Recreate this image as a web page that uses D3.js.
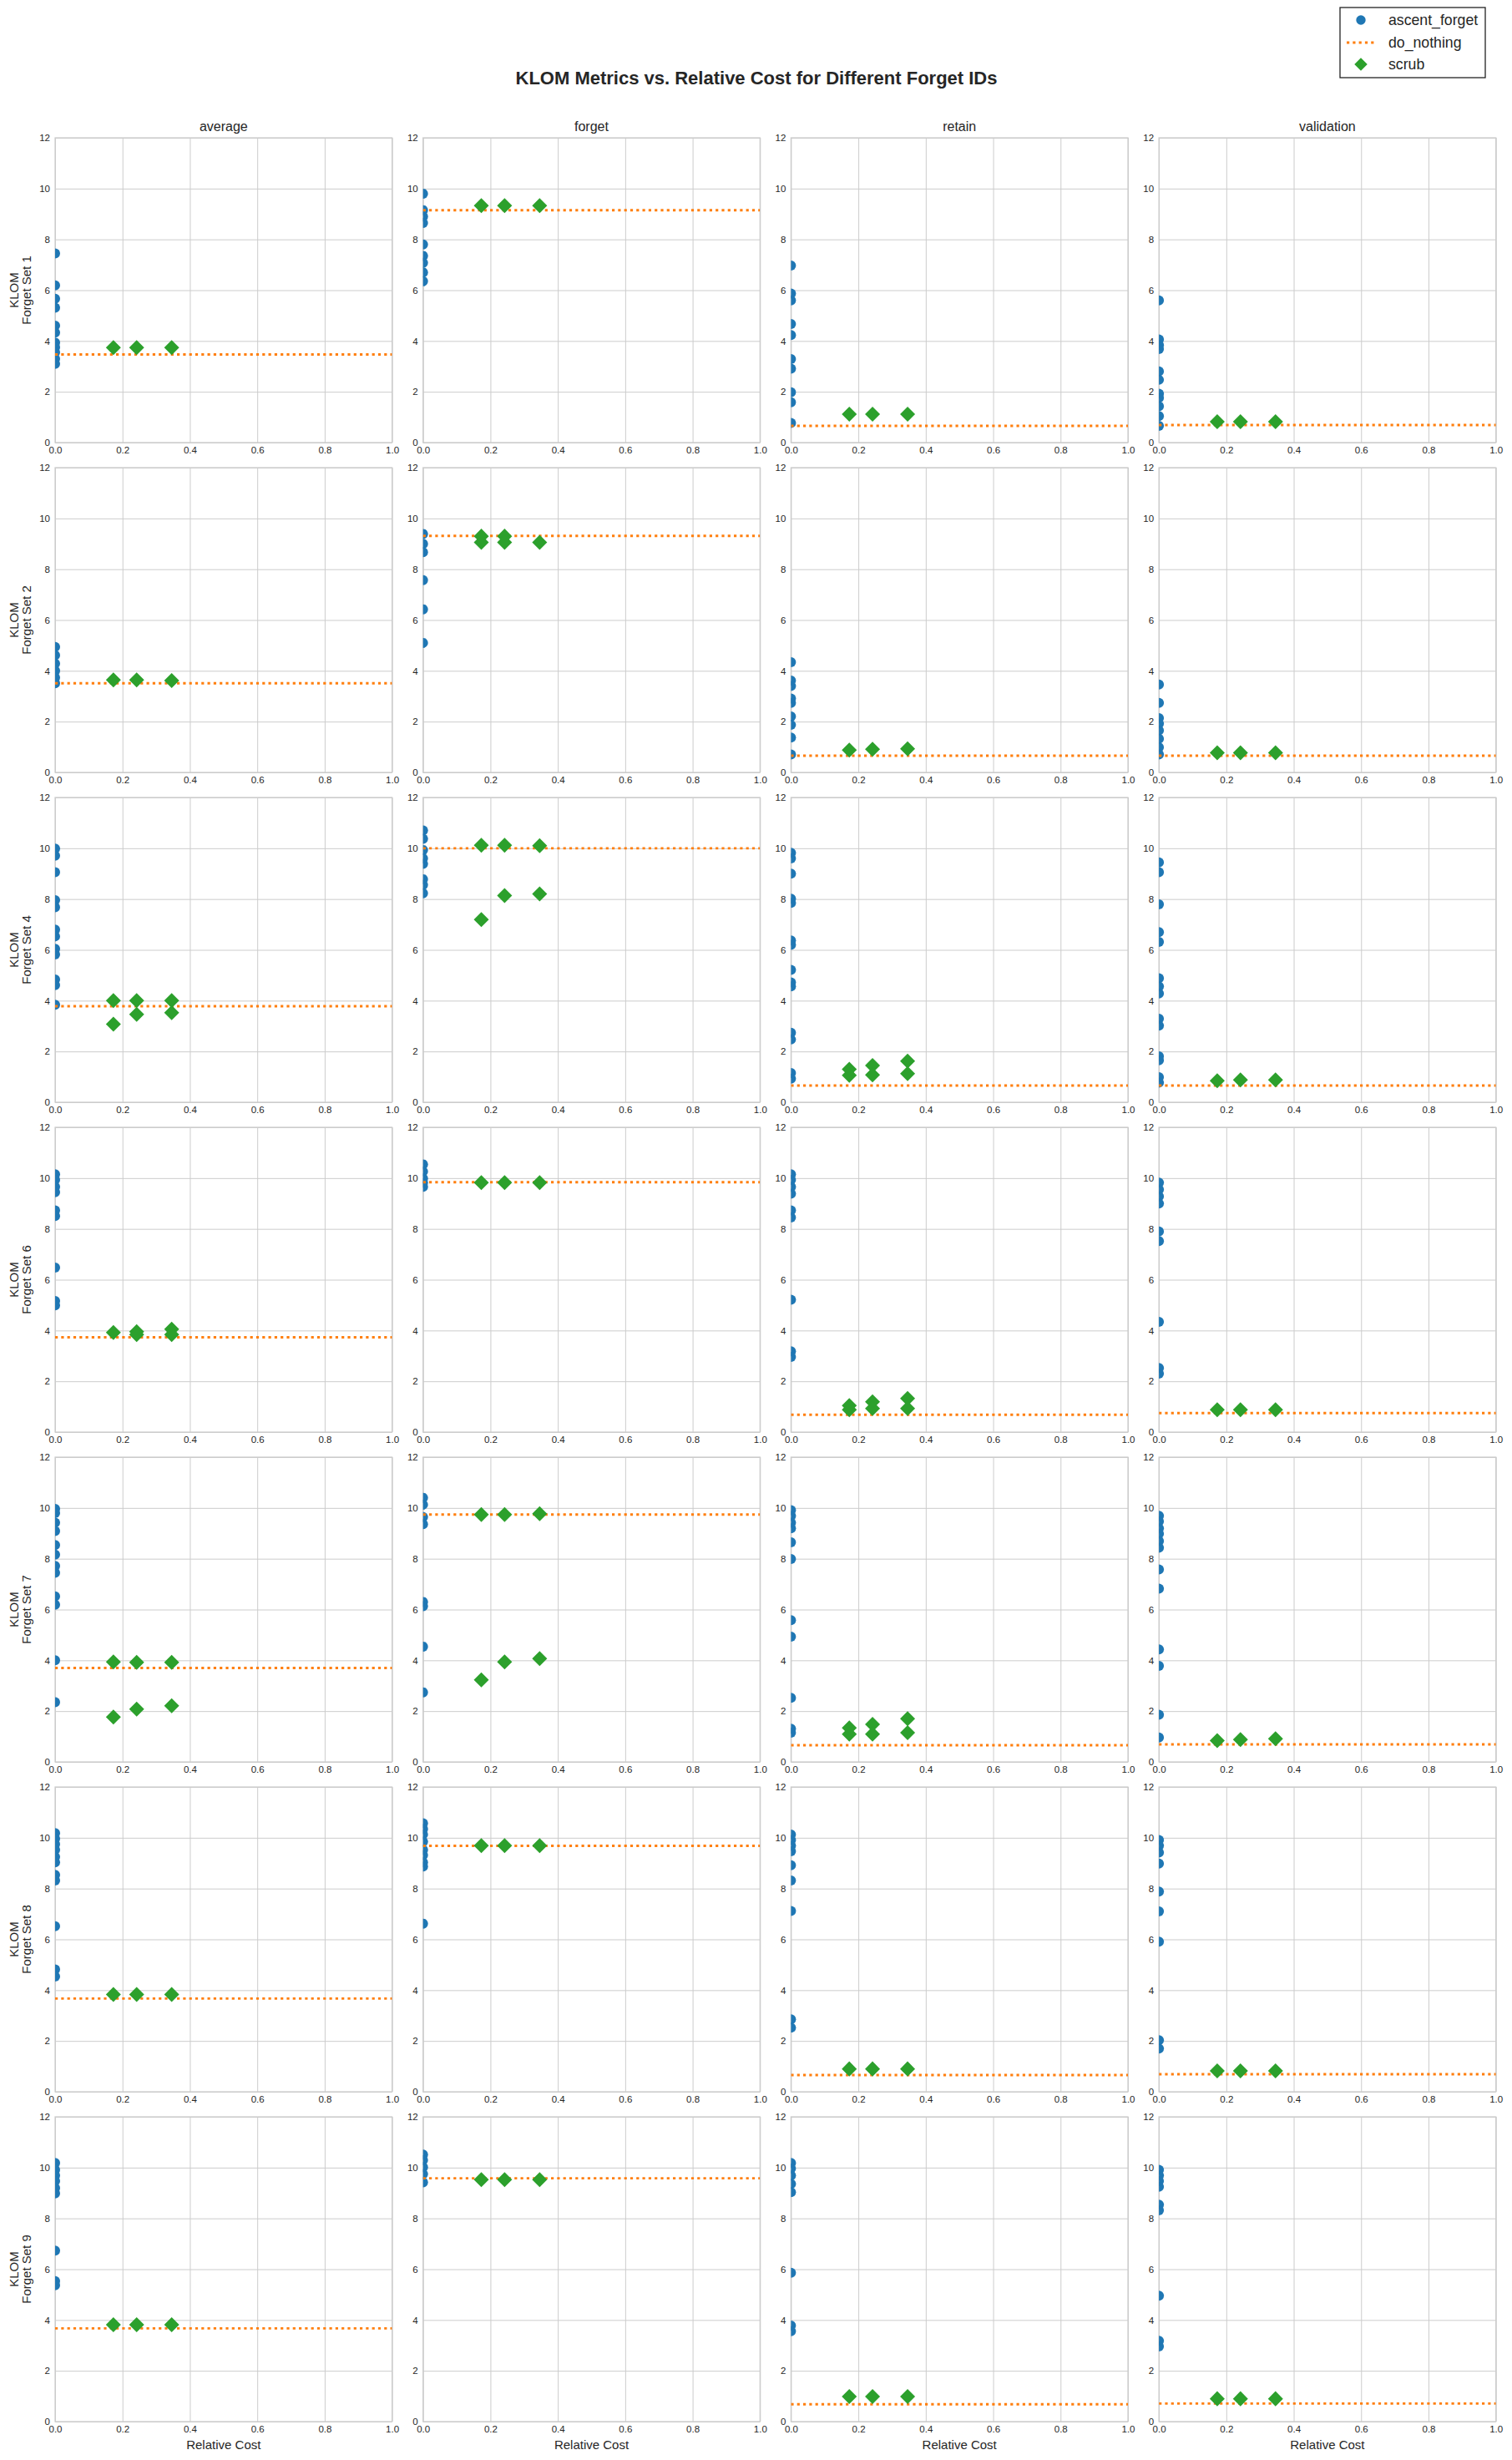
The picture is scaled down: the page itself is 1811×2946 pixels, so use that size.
<!DOCTYPE html>
<html>
<head>
<meta charset="utf-8">
<script src="https://cdn.jsdelivr.net/npm/d3@7"></script>
<style>
  html, body { margin: 0; padding: 0; background: #fff; }
  svg { display: block; font-family: "Liberation Sans", Arial, sans-serif; }
</style>
</head>
<body>
<svg id="chart" width="1811" height="2946"></svg>
<script>
// ---------------- DATA ----------------
const chartTitle = "KLOM Metrics vs. Relative Cost for Different Forget IDs";
const forgetSets = ["Forget Set 1", "Forget Set 2", "Forget Set 4", "Forget Set 6", "Forget Set 7", "Forget Set 8", "Forget Set 9"];
const metrics = ["average", "forget", "retain", "validation"];
const seriesNames = ["ascent_forget", "do_nothing", "scrub"];
const xTicks = [0, 0.2, 0.4, 0.6, 0.8, 1.0];
const yTicks = [0, 2, 4, 6, 8, 10, 12];
const ascentCost = 0;
const scrubCost = [0.173, 0.242, 0.346];

// ascent_forget KLOM values (all at relative cost 0), per metric
const ascentSet1 = [
  [7.45, 6.19, 5.66, 5.31, 4.6, 4.33, 3.94, 3.75, 3.55, 3.3, 3.1],
  [9.8, 9.15, 8.9, 8.65, 7.8, 7.35, 7.08, 6.7, 6.35],
  [6.97, 5.87, 5.6, 4.67, 4.23, 3.29, 2.91, 1.98, 1.59, 0.77],
  [5.6, 4.06, 3.84, 3.68, 2.8, 2.47, 1.92, 1.76, 1.43, 1.04, 0.66]
];
const ascentSet2 = [
  [4.94, 4.61, 4.28, 4.0, 3.73, 3.51],
  [9.39, 9.0, 8.67, 7.57, 6.42, 5.1],
  [4.34, 3.62, 3.4, 2.91, 2.74, 2.2, 1.87, 1.37, 0.71],
  [3.46, 2.74, 2.14, 1.92, 1.65, 1.32, 0.99, 0.71]
];
const ascentSet4 = [
  [9.99, 9.71, 9.06, 7.96, 7.68, 6.8, 6.53, 6.04, 5.82, 4.83, 4.61, 3.84],
  [10.7, 10.37, 9.93, 9.6, 9.39, 8.78, 8.56, 8.23],
  [9.82, 9.6, 9.0, 8.01, 7.85, 6.37, 6.2, 5.21, 4.72, 4.56, 2.74, 2.47, 1.15, 0.93],
  [9.44, 9.06, 7.79, 6.7, 6.31, 4.88, 4.56, 4.28, 3.29, 3.02, 1.81, 1.65, 0.99, 0.77]
];
const ascentSet6 = [
  [10.15, 9.93, 9.66, 9.44, 8.73, 8.51, 6.48, 5.16, 4.99],
  [10.54, 10.26, 9.99, 9.82, 9.66],
  [10.15, 9.93, 9.66, 9.39, 8.73, 8.45, 5.21, 3.18, 2.96],
  [9.82, 9.55, 9.28, 9.0, 7.9, 7.52, 4.34, 2.52, 2.3]
];
const ascentSet7 = [
  [9.96, 9.8, 9.42, 9.09, 8.54, 8.16, 7.72, 7.45, 6.52, 6.19, 4.0, 2.35],
  [10.4, 10.13, 9.64, 9.36, 6.3, 6.13, 4.54, 2.74],
  [9.91, 9.69, 9.42, 9.2, 8.65, 7.99, 5.58, 4.93, 2.52, 1.31, 1.15],
  [9.69, 9.47, 9.2, 8.98, 8.7, 8.43, 7.58, 6.82, 4.43, 3.78, 1.86, 0.96]
];
const ascentSet8 = [
  [10.18, 9.96, 9.75, 9.53, 9.25, 9.03, 8.54, 8.32, 6.52, 4.82, 4.54],
  [10.57, 10.35, 10.13, 9.85, 9.53, 9.31, 9.03, 8.87, 6.62],
  [10.13, 9.91, 9.69, 9.47, 8.92, 8.32, 7.12, 2.85, 2.52],
  [9.91, 9.69, 9.42, 8.98, 7.88, 7.1, 5.91, 2.03, 1.7]
];
const ascentSet9 = [
  [10.18, 9.91, 9.69, 9.47, 9.2, 8.98, 6.73, 5.53, 5.37],
  [10.51, 10.29, 10.02, 9.75, 9.42],
  [10.18, 9.96, 9.69, 9.36, 9.03, 5.86, 3.78, 3.56],
  [9.91, 9.69, 9.47, 9.25, 8.54, 8.32, 4.96, 3.18, 2.96]
];

// do_nothing KLOM value per metric (average, forget, retain, validation)
const doNothingSet1 = [3.47, 9.15, 0.66, 0.69];
const doNothingSet2 = [3.51, 9.31, 0.66, 0.66];
const doNothingSet4 = [3.78, 10.0, 0.66, 0.66];
const doNothingSet6 = [3.73, 9.84, 0.68, 0.75];
const doNothingSet7 = [3.7, 9.74, 0.66, 0.69];
const doNothingSet8 = [3.67, 9.68, 0.66, 0.69];
const doNothingSet9 = [3.67, 9.58, 0.68, 0.71];

// scrub KLOM values per metric, grouped by the three scrub costs
const scrubSet1 = [
  [[3.74], [3.74], [3.74]],
  [[9.33], [9.33], [9.33]],
  [[1.12], [1.12], [1.12]],
  [[0.82], [0.82], [0.82]]
];
const scrubSet2 = [
  [[3.64], [3.64], [3.62]],
  [[9.3, 9.06], [9.3, 9.06], [9.06]],
  [[0.88], [0.91], [0.93]],
  [[0.77], [0.77], [0.77]]
];
const scrubSet4 = [
  [[4.0, 3.07], [4.0, 3.46], [4.0, 3.53]],
  [[10.12, 7.19], [10.12, 8.14], [10.1, 8.2]],
  [[1.3, 1.06], [1.45, 1.08], [1.62, 1.13]],
  [[0.85], [0.88], [0.88]]
];
const scrubSet6 = [
  [[3.92], [3.95, 3.84], [4.05, 3.84]],
  [[9.82], [9.82], [9.82]],
  [[1.04, 0.88], [1.19, 0.93], [1.32, 0.93]],
  [[0.88], [0.88], [0.88]]
];
const scrubSet7 = [
  [[3.94, 1.77], [3.92, 2.08], [3.92, 2.21]],
  [[9.74, 3.23], [9.74, 3.94], [9.77, 4.07]],
  [[1.34, 1.09], [1.48, 1.09], [1.7, 1.15]],
  [[0.84], [0.88], [0.91]]
];
const scrubSet8 = [
  [[3.83], [3.83], [3.83]],
  [[9.69], [9.69], [9.69]],
  [[0.9], [0.9], [0.9]],
  [[0.82], [0.82], [0.82]]
];
const scrubSet9 = [
  [[3.81], [3.81], [3.81]],
  [[9.53], [9.53], [9.53]],
  [[0.99], [0.99], [0.99]],
  [[0.9], [0.9], [0.9]]
];

const ascentBySet = [ascentSet1, ascentSet2, ascentSet4, ascentSet6, ascentSet7, ascentSet8, ascentSet9];
const doNothingBySet = [doNothingSet1, doNothingSet2, doNothingSet4, doNothingSet6, doNothingSet7, doNothingSet8, doNothingSet9];
const scrubBySet = [scrubSet1, scrubSet2, scrubSet4, scrubSet6, scrubSet7, scrubSet8, scrubSet9];

// ---------------- STYLE / LAYOUT ----------------
const colors = { ascent_forget: "#1f77b4", do_nothing: "#ff7f0e", scrub: "#2ca02c" };
const panelLeft0 = 66, panelStepX = 440.7, panelW = 403.6;
const panelTop0 = 165, panelStepY = 395, panelH = 365;
const textColor = "#262626";
const gridColor = "#cccccc";

const svg = d3.select("#chart");
svg.append("rect").attr("width", 1811).attr("height", 2946).attr("fill", "#fff");

const x = d3.scaleLinear().domain([0, 1]).range([0, panelW]);
const y = d3.scaleLinear().domain([0, 12]).range([panelH, 0]);

const diamond = d3.symbol().type(d3.symbolSquare).size(2 * 9 * 9 / 1.0 / 1); // side = 9*sqrt2 -> half-diagonal 9
const circleR = 6;

// Title
svg.append("text")
  .attr("x", 906).attr("y", 101)
  .attr("text-anchor", "middle")
  .attr("font-size", 22).attr("font-weight", "bold")
  .attr("fill", textColor)
  .text(chartTitle);

forgetSets.forEach((setName, r) => {
  metrics.forEach((metric, c) => {
    const gx = panelLeft0 + c * panelStepX;
    const gy = panelTop0 + r * panelStepY;
    const g = svg.append("g").attr("transform", `translate(${gx},${gy})`);
    const clipId = `clip-${r}-${c}`;
    g.append("clipPath").attr("id", clipId)
      .append("rect").attr("width", panelW).attr("height", panelH);

    // grid (x)
    g.append("g")
      .attr("transform", `translate(0,${panelH})`)
      .call(d3.axisBottom(x).tickValues(xTicks).tickSize(-panelH).tickFormat(""))
      .call(a => a.select(".domain").remove())
      .call(a => a.selectAll("line").attr("stroke", gridColor).attr("stroke-width", 1));
    // grid (y)
    g.append("g")
      .call(d3.axisLeft(y).tickValues(yTicks).tickSize(-panelW).tickFormat(""))
      .call(a => a.select(".domain").remove())
      .call(a => a.selectAll("line").attr("stroke", gridColor).attr("stroke-width", 1));

    // spines
    g.append("rect")
      .attr("width", panelW).attr("height", panelH)
      .attr("fill", "none").attr("stroke", gridColor).attr("stroke-width", 1.25);

    // tick labels
    g.append("g")
      .attr("transform", `translate(0,${panelH})`)
      .call(d3.axisBottom(x).tickValues(xTicks).tickSize(0).tickPadding(5).tickFormat(d3.format(".1f")))
      .call(a => a.select(".domain").remove())
      .call(a => a.selectAll("text").attr("font-size", 11.5).attr("fill", textColor)
        .attr("font-family", '"Liberation Sans", Arial, sans-serif'));
    g.append("g")
      .call(d3.axisLeft(y).tickValues(yTicks).tickSize(0).tickPadding(6).tickFormat(d3.format("d")))
      .call(a => a.select(".domain").remove())
      .call(a => a.selectAll("text").attr("font-size", 11.5).attr("fill", textColor)
        .attr("font-family", '"Liberation Sans", Arial, sans-serif'));

    const plot = g.append("g").attr("clip-path", `url(#${clipId})`);

    // ascent_forget
    plot.selectAll("circle.asc")
      .data(ascentBySet[r][c])
      .join("circle")
      .attr("class", "asc")
      .attr("cx", x(ascentCost))
      .attr("cy", d => y(d))
      .attr("r", circleR)
      .attr("fill", colors.ascent_forget);

    // do_nothing
    const dn = doNothingBySet[r][c];
    plot.append("path")
      .datum([[0, dn], [1, dn]])
      .attr("d", d3.line().x(d => x(d[0])).y(d => y(d[1])))
      .attr("fill", "none")
      .attr("stroke", colors.do_nothing)
      .attr("stroke-width", 2.9)
      .attr("stroke-dasharray", "3.2 4.1");

    // scrub
    const pts = [];
    scrubBySet[r][c].forEach((vals, i) => vals.forEach(v => pts.push([scrubCost[i], v])));
    plot.selectAll("path.scrub")
      .data(pts)
      .join("path")
      .attr("class", "scrub")
      .attr("transform", d => `translate(${x(d[0])},${y(d[1])}) rotate(45)`)
      .attr("d", d3.symbol().type(d3.symbolSquare).size(162))
      .attr("fill", colors.scrub);

    // column titles
    if (r === 0) {
      g.append("text")
        .attr("x", panelW / 2).attr("y", -8)
        .attr("text-anchor", "middle")
        .attr("font-size", 16).attr("fill", textColor)
        .text(metric);
    }
    // y labels
    if (c === 0) {
      const yl = g.append("text")
        .attr("transform", `translate(${-44.5},${panelH / 2}) rotate(-90)`)
        .attr("text-anchor", "middle")
        .attr("font-size", 15).attr("fill", textColor);
      yl.append("tspan").attr("x", 0).attr("y", 0).text("KLOM");
      yl.append("tspan").attr("x", 0).attr("y", 15).text(setName);
    }
    // x labels
    if (r === forgetSets.length - 1) {
      g.append("text")
        .attr("x", panelW / 2).attr("y", panelH + 33)
        .attr("text-anchor", "middle")
        .attr("font-size", 15).attr("fill", textColor)
        .text("Relative Cost");
    }
  });
});

// Legend
const lg = svg.append("g").attr("transform", "translate(1605,9)");
lg.append("rect").attr("width", 174).attr("height", 84)
  .attr("fill", "#fff").attr("stroke", "#222").attr("stroke-width", 1.3);
const rowsY = [15, 42, 68];
seriesNames.forEach((name, i) => {
  const cy = rowsY[i];
  if (name === "ascent_forget") {
    lg.append("circle").attr("cx", 25).attr("cy", cy).attr("r", 5.7).attr("fill", colors.ascent_forget);
  } else if (name === "do_nothing") {
    lg.append("line").attr("x1", 8).attr("x2", 41).attr("y1", cy).attr("y2", cy)
      .attr("stroke", colors.do_nothing).attr("stroke-width", 2.9).attr("stroke-dasharray", "3.2 4.1");
  } else {
    lg.append("path").attr("transform", `translate(25,${cy}) rotate(45)`)
      .attr("d", d3.symbol().type(d3.symbolSquare).size(120)).attr("fill", colors.scrub);
  }
  lg.append("text").attr("x", 58).attr("y", cy).attr("dy", "0.35em")
    .attr("font-size", 17.7).attr("fill", textColor).text(name);
});
</script>
</body>
</html>
